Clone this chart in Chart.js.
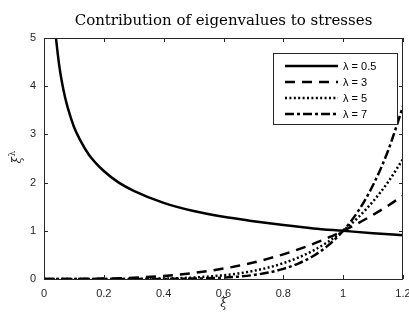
<!DOCTYPE html>
<html>
<head>
<meta charset="utf-8">
<script src="https://cdn.jsdelivr.net/npm/chart.js@4.4.0/dist/chart.umd.min.js"></script>
<style>
  html, body { margin: 0; padding: 0; background: #fff; }
  #wrap { width: 409px; height: 316px; }
</style>
</head>
<body>
<div id="wrap"><canvas id="chart" width="409" height="316"></canvas></div>
<script>
// --- Data ---
const xSmall = [0.04, 0.05, 0.06, 0.07, 0.08, 0.1, 0.12, 0.15, 0.2, 0.25, 0.3, 0.4, 0.5, 0.6, 0.7, 0.8, 0.9, 1.0, 1.1, 1.2];
const yHalf  = [5.00, 4.47, 4.08, 3.78, 3.54, 3.16, 2.89, 2.58, 2.24, 2.00, 1.83, 1.58, 1.41, 1.29, 1.20, 1.12, 1.05, 1.00, 0.95, 0.91];

const xs = [0, 0.1, 0.2, 0.3, 0.4, 0.5, 0.6, 0.65, 0.7, 0.75, 0.8, 0.85, 0.9, 0.95, 1.0, 1.05, 1.1, 1.15, 1.2];
const y3 = [0, 0.001, 0.008, 0.027, 0.064, 0.125, 0.216, 0.275, 0.343, 0.422, 0.512, 0.614, 0.729, 0.857, 1.0, 1.158, 1.331, 1.521, 1.728];
const y5 = [0, 0, 0, 0.002, 0.010, 0.031, 0.078, 0.116, 0.168, 0.237, 0.328, 0.444, 0.590, 0.774, 1.0, 1.276, 1.611, 2.011, 2.488];
const y7 = [0, 0, 0, 0, 0.002, 0.008, 0.028, 0.049, 0.082, 0.133, 0.210, 0.321, 0.478, 0.698, 1.0, 1.407, 1.949, 2.660, 3.583];

const seriesLabels = ['\u03bb = 0.5', '\u03bb = 3', '\u03bb = 5', '\u03bb = 7'];
const xTicks = [0, 0.2, 0.4, 0.6, 0.8, 1, 1.2];
const yTicks = [0, 1, 2, 3, 4, 5];

const toPts = (xv, yv) => xv.map((x, i) => ({ x, y: yv[i] }));

const dashes = [[], [10, 7], [2, 2.4], [9, 3, 3, 3]];

function makeSet(label, data, dash) {
    return {
        label,
        data,
        borderColor: '#000',
        borderWidth: 2.5,
        borderDash: dash,
        pointRadius: 0,
        fill: false,
        tension: 0.4,
        cubicInterpolationMode: 'monotone'
    };
}

// --- Box, inward ticks, axis titles and legend, MATLAB style ---
const framePlugin = {
    id: 'frame',
    afterDraw(chart) {
        const { ctx, chartArea: a, scales } = chart;
        ctx.save();
        ctx.strokeStyle = '#262626';
        ctx.lineWidth = 1;
        ctx.strokeRect(a.left + 0.5, a.top + 0.5, a.right - a.left - 1, a.bottom - a.top);
        ctx.beginPath();
        xTicks.forEach(v => {
            const px = Math.round(scales.x.getPixelForValue(v)) + 0.5;
            ctx.moveTo(px, a.bottom); ctx.lineTo(px, a.bottom - 4);
            ctx.moveTo(px, a.top); ctx.lineTo(px, a.top + 4);
        });
        yTicks.forEach(v => {
            const py = Math.round(scales.y.getPixelForValue(v)) + 0.5;
            ctx.moveTo(a.left, py); ctx.lineTo(a.left + 4, py);
            ctx.moveTo(a.right, py); ctx.lineTo(a.right - 4, py);
        });
        ctx.stroke();

        // x title
        ctx.fillStyle = '#262626';
        ctx.textAlign = 'center';
        ctx.textBaseline = 'alphabetic';
        ctx.font = 'italic 12px "DejaVu Serif"';
        ctx.fillText('\u03be', (a.left + a.right) / 2, 307);

        // y title: xi with superscript lambda
        ctx.textAlign = 'left';
        ctx.translate(17, (a.top + a.bottom) / 2);
        ctx.rotate(-Math.PI / 2);
        ctx.font = 'italic 12px "DejaVu Serif"';
        ctx.fillText('\u03be', -5, 4);
        ctx.font = '9px "DejaVu Serif"';
        ctx.fillText('\u03bb', 2, -2);
        ctx.restore();

        // legend box
        const lx = 273, ly = 53, lw = 124, lh = 71;
        ctx.save();
        ctx.fillStyle = '#fff';
        ctx.fillRect(lx, ly, lw, lh);
        ctx.strokeStyle = '#262626';
        ctx.lineWidth = 1;
        ctx.strokeRect(lx + 0.5, ly + 0.5, lw, lh);
        const rows = [66, 82, 98, 114];
        chart.data.datasets.forEach((ds, i) => {
            ctx.strokeStyle = '#000';
            ctx.lineWidth = 2.5;
            ctx.setLineDash(ds.borderDash);
            ctx.beginPath();
            ctx.moveTo(285, rows[i]);
            ctx.lineTo(338, rows[i]);
            ctx.stroke();
            ctx.setLineDash([]);
            ctx.fillStyle = '#000';
            ctx.font = '11px "Liberation Sans"';
            ctx.textBaseline = 'middle';
            ctx.fillText(ds.label, 343, rows[i] + 1);
        });
        ctx.restore();
    }
};

new Chart(document.getElementById('chart'), {
    type: 'line',
    data: {
        datasets: [
            makeSet(seriesLabels[0], toPts(xSmall, yHalf), dashes[0]),
            makeSet(seriesLabels[1], toPts(xs, y3), dashes[1]),
            makeSet(seriesLabels[2], toPts(xs, y5), dashes[2]),
            makeSet(seriesLabels[3], toPts(xs, y7), dashes[3])
        ]
    },
    options: {
        responsive: false,
        animation: false,
        layout: { padding: { left: 0, right: 6, top: 0, bottom: 0 } },
        plugins: {
            legend: { display: false },
            tooltip: { enabled: false },
            title: {
                display: true,
                text: 'Contribution of eigenvalues to stresses',
                fullSize: false,
                color: '#000',
                font: { family: '"DejaVu Serif"', size: 15, weight: 'normal' },
                padding: { top: 12, bottom: 8 }
            }
        },
        scales: {
            x: {
                type: 'linear',
                min: 0, max: 1.2,
                afterBuildTicks: s => { s.ticks = xTicks.map(v => ({ value: v })); },
                afterFit: s => { s.height = 37; s.paddingRight = 0; s.paddingLeft = 0; },
                grid: { display: false, drawTicks: false },
                border: { display: false },
                ticks: {
                    padding: 8,
                    color: '#262626',
                    font: { family: '"Liberation Sans"', size: 11 },
                    callback: v => String(v)
                }
            },
            y: {
                type: 'linear',
                min: 0, max: 5,
                afterBuildTicks: s => { s.ticks = yTicks.map(v => ({ value: v })); },
                afterFit: s => { s.width = 44; s.paddingTop = 0; s.paddingBottom = 0; },
                grid: { display: false, drawTicks: false },
                border: { display: false },
                ticks: {
                    padding: 8,
                    color: '#262626',
                    font: { family: '"Liberation Sans"', size: 11 }
                }
            }
        }
    },
    plugins: [framePlugin]
});
</script>
</body>
</html>
